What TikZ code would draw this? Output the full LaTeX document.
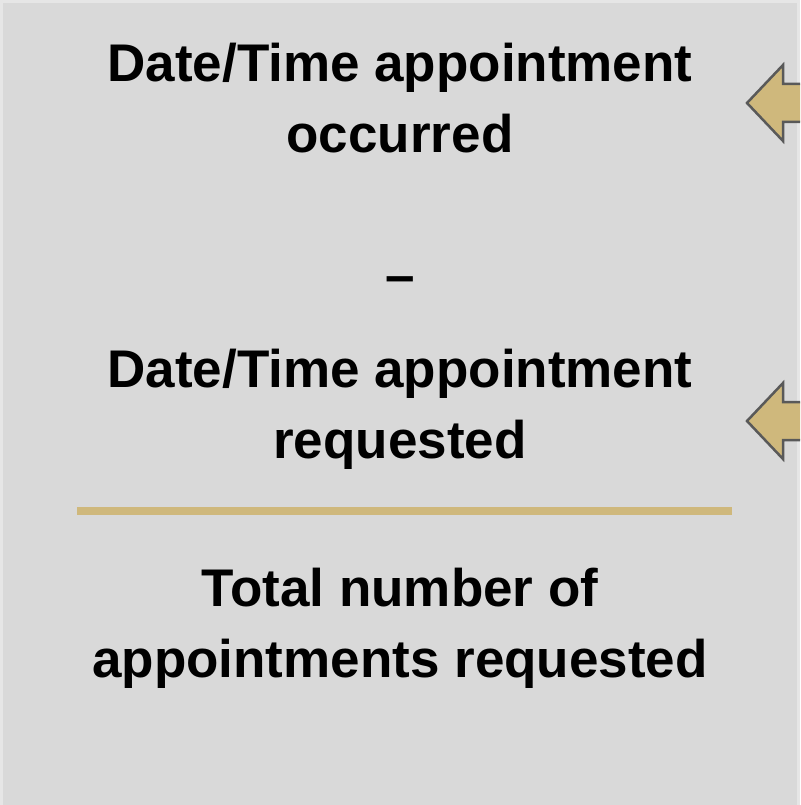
\documentclass[tikz,border=0pt]{standalone}
\usepackage{fontspec}
\setmainfont{Liberation Sans}
\definecolor{panelgray}{HTML}{D9D9D9}
\definecolor{edgegray}{HTML}{E6E6E6}
\definecolor{cugold}{HTML}{CFB87C}
\definecolor{arrowline}{HTML}{595959}
\tikzset{
  term/.style={anchor=base,inner sep=0pt,align=center,
    font=\fontsize{53}{71}\selectfont\bfseries},
  pointer/.style={fill=cugold,draw=arrowline,line width=2.5pt,line join=miter}
}
\begin{document}
\begin{tikzpicture}[x=1pt,y=-1pt]
        \useasboundingbox (0,0) rectangle (800,805);
        \clip (0,0) rectangle (800,805);
        \fill[edgegray] (0,0) rectangle (800,805);
        \fill[panelgray] (3,3) rectangle (797,810);

        % anchor base sits on the last line
        \node[term] (occurred) at (400,153) {Date/Time appointment\\occurred};
        \node[term] (minus) at (400,293) {--};
        \node[term] (requested) at (400,458) {Date/Time appointment\\requested};
        \node[term] (total) at (400,677) {Total number of\\appointments requested};

        \draw[cugold,line width=8pt] (77,511) -- (732,511);

        % arrows pointing at the two dates
        \foreach \y in {103,421}
            \draw[pointer] (747,\y) -- (783,\y-38) -- (783,\y-19) -- (820,\y-19)
                -- (820,\y+19) -- (783,\y+19) -- (783,\y+38) -- cycle;
    \end{tikzpicture}
\end{document}
